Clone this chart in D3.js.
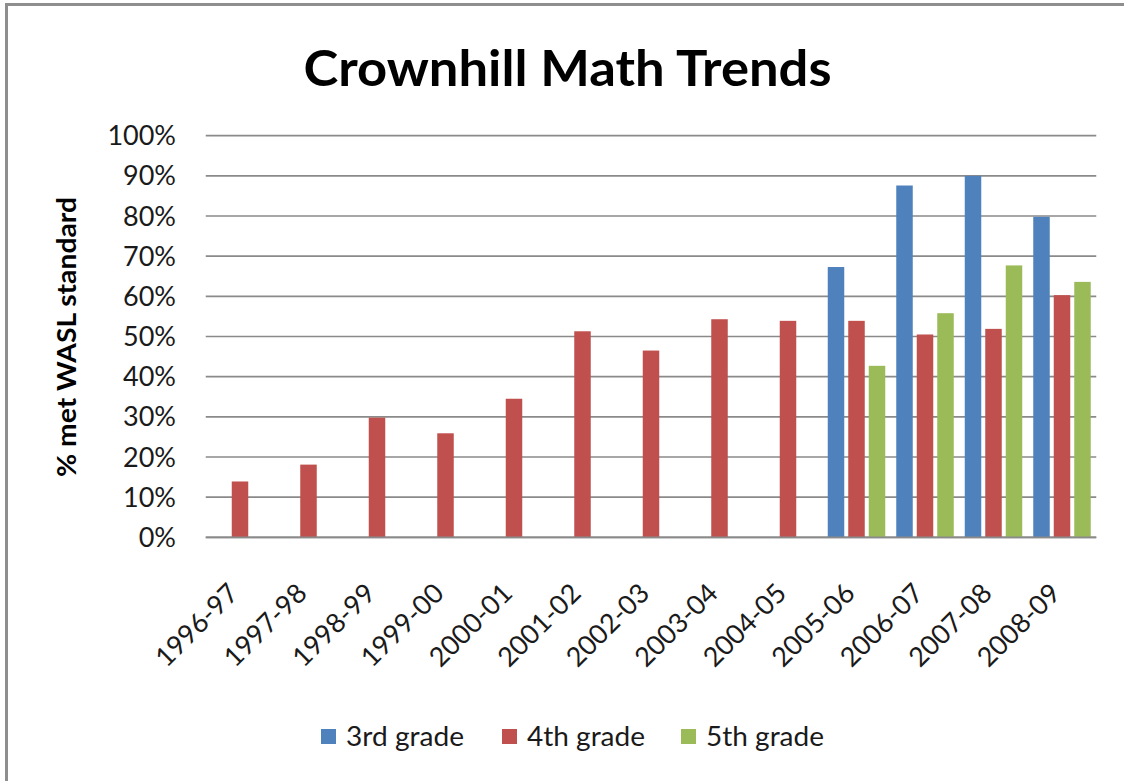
<!DOCTYPE html>
<html>
<head>
<meta charset="utf-8">
<script src="https://cdn.jsdelivr.net/npm/d3@7/dist/d3.min.js"></script>
<style>
html,body{margin:0;padding:0;background:#fff;}
svg{display:block;}
</style>
</head>
<body>
<svg id="chart" width="1124" height="781"></svg>
<script>
const categories = ["1996-97","1997-98","1998-99","1999-00","2000-01","2001-02","2002-03","2003-04","2004-05","2005-06","2006-07","2007-08","2008-09"];
const seriesNames = ["3rd grade","4th grade","5th grade"];
const grade3 = [null,null,null,null,null,null,null,null,null,67.3,87.6,90.0,79.8];
const grade4 = [13.9,18.1,29.8,25.9,34.5,51.3,46.5,54.3,53.9,53.9,50.5,51.9,60.3];
const grade5 = [null,null,null,null,null,null,null,null,null,42.7,55.8,67.7,63.6];
const yTicks = [0,10,20,30,40,50,60,70,80,90,100];
const colors = ["#4F81BD","#C0504D","#9BBB59"];
const titleText = "Crownhill Math Trends";
const yTitle = "% met WASL standard";

(function(){
const svg = d3.select("#chart");
const font = "Lato, 'Open Sans', sans-serif";

// chart frame
svg.append("rect").attr("x",6.5).attr("y",4.5).attr("width",1200).attr("height",900)
  .attr("fill","#fff").attr("stroke","#8e8e8e").attr("stroke-width",3);

const pLeft = 205.75, pRight = 1096.25, pTop = 135.7, pBottom = 537.3;
const x0 = d3.scaleBand().domain(categories).range([pLeft,pRight]).paddingInner(0).paddingOuter(0);
const bw = x0.bandwidth();
const x1 = d3.scaleBand().domain(seriesNames).range([3.5, bw-3.5]).paddingInner(0.195).paddingOuter(0.0975);
const y = d3.scaleLinear().domain([0,100]).range([pBottom, pTop]);

// gridlines
svg.append("g").selectAll("line").data(yTicks).join("line")
  .attr("x1",pLeft).attr("x2",pRight)
  .attr("y1",d=>y(d)).attr("y2",d=>y(d))
  .attr("stroke","#8a8a8a").attr("stroke-width",1.7);

// y tick labels
svg.append("g").selectAll("text").data(yTicks).join("text")
  .attr("x",176).attr("y",d=>y(d)+9.6)
  .attr("text-anchor","end")
  .attr("font-family",font).attr("font-size",27).attr("fill","#1a1a1a")
  .text(d=>d+"%");

// bars
const seriesData = [grade3, grade4, grade5];
const flat = [];
seriesData.forEach((arr,si)=>arr.forEach((v,ci)=>{ if(v!==null) flat.push({s:seriesNames[si], si, c:categories[ci], v}); }));
svg.append("g").selectAll("rect").data(flat).join("rect")
  .attr("x",d=>x0(d.c)+x1(d.s))
  .attr("width",x1.bandwidth())
  .attr("y",d=>y(d.v))
  .attr("height",d=>y(0)-y(d.v))
  .attr("fill",d=>colors[d.si]);

// baseline
svg.append("line").attr("x1",pLeft).attr("x2",pRight).attr("y1",pBottom).attr("y2",pBottom)
  .attr("stroke","#8a8a8a").attr("stroke-width",1.7);

// x labels
svg.append("g").selectAll("text").data(categories).join("text")
  .attr("transform",d=>`translate(${x0(d)+bw/2},595) rotate(-45)`)
  .attr("text-anchor","end")
  .attr("font-family",font).attr("font-size",27).attr("fill","#1a1a1a")
  .text(d=>d);

// title
svg.append("text").attr("x",567.5).attr("y",86).attr("text-anchor","middle")
  .attr("font-family",font).attr("font-weight","bold").attr("font-size",50).attr("fill","#000")
  .attr("textLength",528).attr("lengthAdjust","spacingAndGlyphs")
  .text(titleText);

// y axis title
svg.append("text").attr("transform","translate(76,337) rotate(-90)")
  .attr("text-anchor","middle")
  .attr("font-family",font).attr("font-weight","bold").attr("font-size",27).attr("fill","#000")
  .attr("textLength",280).attr("lengthAdjust","spacingAndGlyphs")
  .text(yTitle);

// legend
const legendX = [321, 502, 681];
const lg = svg.append("g").selectAll("g").data(seriesNames).join("g")
  .attr("transform",(d,i)=>`translate(${legendX[i]},729)`);
lg.append("rect").attr("width",15).attr("height",15).attr("fill",(d,i)=>colors[i]);
lg.append("text").attr("x",25).attr("y",17)
  .attr("font-family",font).attr("font-size",27).attr("fill","#1a1a1a")
  .attr("textLength",118).attr("lengthAdjust","spacingAndGlyphs")
  .text(d=>d);
})();
</script>
</body>
</html>
